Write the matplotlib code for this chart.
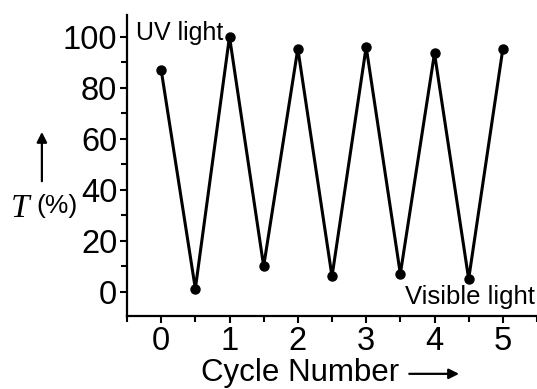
import matplotlib
matplotlib.use("Agg")
import matplotlib.pyplot as plt
from matplotlib.patches import FancyArrowPatch
from matplotlib.ticker import MultipleLocator

# Transmittance over switching cycles (UV / visible light)
cycles = [0, 0.5, 1, 1.5, 2, 2.5, 3, 3.5, 4, 4.5, 5]
transmittance = [87, 1.2, 100, 10, 95.3, 6, 96, 7, 93.5, 5, 95.2]
x_ticks = [0, 1, 2, 3, 4, 5]
y_ticks = [0, 20, 40, 60, 80, 100]

plt.rcParams["font.family"] = ["Liberation Sans", "DejaVu Sans"]

fig = plt.figure(figsize=(5.37, 3.89), dpi=100)
ax = fig.add_axes([0.2365, 0.1877, 0.7635, 0.7737])

ax.plot(cycles, transmittance, color="black", lw=2.2, marker="o", ms=6.5)

ax.set_xlim(-0.5, 5.5)
ax.set_ylim(-9.5, 108.5)
ax.set_xticks(x_ticks)
ax.set_yticks(y_ticks)
ax.xaxis.set_minor_locator(MultipleLocator(0.5))
ax.yaxis.set_minor_locator(MultipleLocator(10))
ax.tick_params(which="major", direction="out", length=5, width=1.5, labelsize=23.5, pad=2)
ax.tick_params(which="minor", direction="out", length=4, width=1.5)

for side in ["top", "right"]:
    ax.spines[side].set_visible(False)
for side in ["left", "bottom"]:
    ax.spines[side].set_linewidth(1.6)

ax.text(0.022, 0.94, "UV light", transform=ax.transAxes, fontsize=18,
        ha="left", va="center")
ax.text(0.996, 0.063, "Visible light", transform=ax.transAxes, fontsize=18.5,
        ha="right", va="center")

# y label with arrow
fig.text(0.02, 0.463, "T", fontsize=24, family="Liberation Serif",
         ha="left", va="center", style="italic")
fig.text(0.068, 0.47, "(%)", fontsize=19, ha="left", va="center")
fig.add_artist(FancyArrowPatch(
    (0.078, 0.527), (0.078, 0.668), transform=fig.transFigure,
    arrowstyle="-|>,head_length=6,head_width=3", color="black", lw=1.6))

# x label with arrow
fig.text(0.559, 0.041, "Cycle Number", fontsize=22.5, ha="center", va="center")
fig.add_artist(FancyArrowPatch(
    (0.757, 0.039), (0.86, 0.039), transform=fig.transFigure,
    arrowstyle="-|>,head_length=6,head_width=3", color="black", lw=1.6))

fig.savefig("out.png", dpi=100)
